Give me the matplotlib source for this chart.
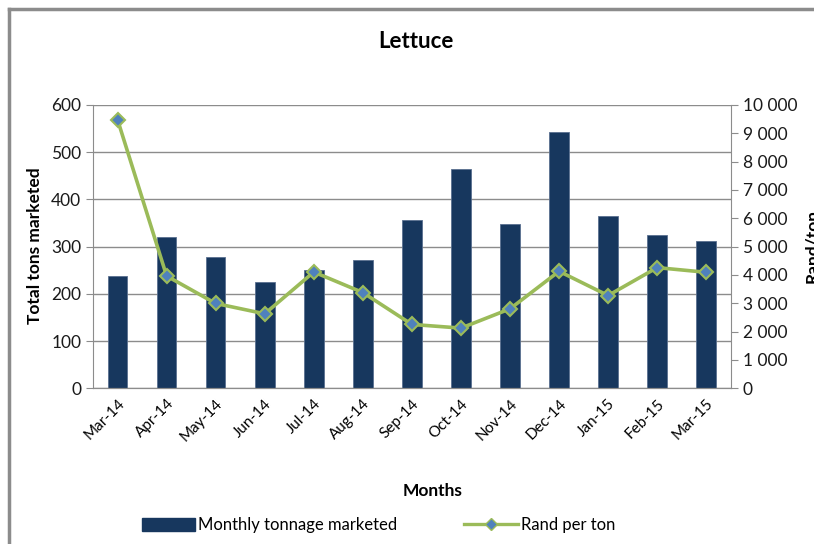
import matplotlib
matplotlib.use("Agg")
import matplotlib.pyplot as plt
from matplotlib.lines import Line2D
from matplotlib.patches import Patch
from matplotlib.ticker import FuncFormatter

months = ["Mar-14", "Apr-14", "May-14", "Jun-14", "Jul-14", "Aug-14", "Sep-14",
          "Oct-14", "Nov-14", "Dec-14", "Jan-15", "Feb-15", "Mar-15"]
tonnage = [238, 320, 278, 226, 250, 272, 356, 465, 348, 542, 365, 324, 313]
rand_per_ton = [9480, 3965, 2995, 2630, 4105, 3380, 2255, 2125, 2805, 4130, 3275, 4260, 4095]

plt.rcParams["font.family"] = ["Lato", "DejaVu Sans"]

fig = plt.figure(figsize=(8.14, 5.44), dpi=100)
ax = fig.add_axes([0.1143, 0.2862, 0.7834, 0.5208])
ax2 = ax.twinx()

x = range(len(months))
ax.bar(x, tonnage, width=0.4, color="#17375E", edgecolor="#5a7090", linewidth=0.6, zorder=2)
ax2.plot(x, rand_per_ton, color="#9BBB59", linewidth=2.6, marker="D", markersize=7.5,
         markerfacecolor="#4F81BD", markeredgecolor="#9BBB59", markeredgewidth=1.5, zorder=3)

ax.set_xlim(-0.5, len(months) - 0.5)
ax.set_ylim(0, 600)
ax.set_yticks(range(0, 601, 100))
ax2.set_ylim(0, 10000)
ax2.set_yticks(range(0, 10001, 1000))
ax2.yaxis.set_major_formatter(FuncFormatter(lambda v, p: f"{int(v):,}".replace(",", " ")))

ax.yaxis.grid(True, color="#8c8c8c", linewidth=1)
ax.set_axisbelow(True)
for a in (ax, ax2):
    a.spines["top"].set_visible(False)
    a.spines["left"].set_color("#8c8c8c")
    a.spines["right"].set_color("#8c8c8c")
    a.spines["bottom"].set_color("#8c8c8c")
    a.tick_params(axis="y", colors="#8c8c8c", labelcolor="#1a1a1a", labelsize=12.5, length=5)
ax2.spines["left"].set_visible(False)
ax.spines["right"].set_visible(False)

ax.set_xticks(list(x))
ax.set_xticklabels(months, rotation=45, ha="right", rotation_mode="anchor", fontsize=11)
ax.tick_params(axis="x", length=0, pad=6)

fig.text(0.511, 0.923, "Lettuce", ha="center", va="center", fontsize=16, fontweight="bold")
fig.text(0.043, 0.548, "Total tons marketed", rotation=90, ha="center", va="center",
         fontsize=12.5, fontweight="bold")
fig.text(0.998, 0.548, "Rand/ton", rotation=90, ha="center", va="center",
         fontsize=12.5, fontweight="bold")
fig.text(0.531, 0.098, "Months", ha="center", va="center", fontsize=12.5, fontweight="bold")

handles = [Patch(facecolor="#17375E", edgecolor="#17375E"),
           Line2D([], [], color="#9BBB59", linewidth=2.4, marker="D", markersize=6,
                  markerfacecolor="#4F81BD", markeredgecolor="#9BBB59")]
fig.legend(handles, ["Monthly tonnage marketed", "Rand per ton"], loc="center",
           bbox_to_anchor=(0.465, 0.035), ncol=2, frameon=False, fontsize=12,
           handlelength=3.2, handleheight=0.8, handletextpad=0.2, columnspacing=4.0)

# outer chart frame
fig.add_artist(Line2D([0.0111, 0.0111], [0.0, 0.983], color="#8c8c8c", linewidth=2.5))
fig.add_artist(Line2D([0.0111, 1.0], [0.983, 0.983], color="#8c8c8c", linewidth=2.5))

fig.savefig("out.png", dpi=100)
